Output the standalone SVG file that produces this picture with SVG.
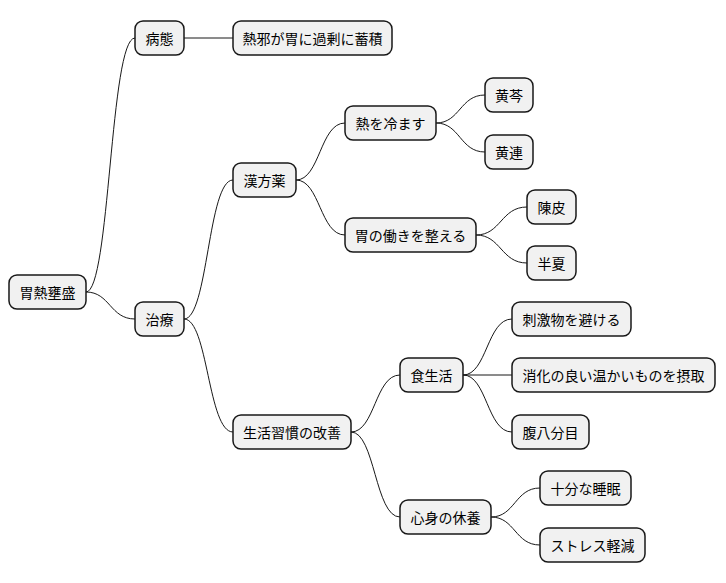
<svg xmlns="http://www.w3.org/2000/svg" width="726" height="583" viewBox="0 0 726 583">
<style>
.n rect{fill:#f1f1f1;stroke:#181818;stroke-width:1.5}
.n text{font-family:"Noto Sans CJK JP","Noto Sans",sans-serif;font-size:14px;fill:#000;text-anchor:middle;dominant-baseline:central}
#c path{fill:none;stroke:#181818;stroke-width:1}
</style>
<rect width="726" height="583" fill="#fff"/>
<g id="c">
<path d="M86,292 C110,292 110,38 135,38"/>
<path d="M86,292 C110,292 110,319 135,319"/>
<path d="M184,38 L233,38"/>
<path d="M184,319 C208,319 208,180 233,180"/>
<path d="M184,319 C208,319 208,432 233,432"/>
<path d="M296,180 C320,180 320,123 345,123"/>
<path d="M296,180 C320,180 320,235 345,235"/>
<path d="M436,123 C460,123 460,95 485,95"/>
<path d="M436,123 C460,123 460,152 485,152"/>
<path d="M476,235 C501,235 501,207 527,207"/>
<path d="M476,235 C501,235 501,263 527,263"/>
<path d="M351,432 C375,432 375,375 400,375"/>
<path d="M351,432 C375,432 375,517 400,517"/>
<path d="M463,375 C487,375 487,319 512,319"/>
<path d="M463,375 L512,375"/>
<path d="M463,375 C487,375 487,432 512,432"/>
<path d="M491,517 C515,517 515,488 540,488"/>
<path d="M491,517 C515,517 515,545 540,545"/>
</g>
<g id="n0" class="n"><rect x="9" y="275" width="77" height="34" rx="8"/><text x="47.5" y="292">胃熱壅盛</text></g>
<g id="n1" class="n"><rect x="135" y="21" width="49" height="34" rx="8"/><text x="159.5" y="38">病態</text></g>
<g id="n2" class="n"><rect x="233" y="21" width="159" height="34" rx="8"/><text x="312.5" y="38">熱邪が胃に過剰に蓄積</text></g>
<g id="n3" class="n"><rect x="135" y="302" width="49" height="34" rx="8"/><text x="159.5" y="319">治療</text></g>
<g id="n4" class="n"><rect x="233" y="163" width="63" height="34" rx="8"/><text x="264.5" y="180">漢方薬</text></g>
<g id="n5" class="n"><rect x="345" y="106" width="91" height="34" rx="8"/><text x="390.5" y="123">熱を冷ます</text></g>
<g id="n6" class="n"><rect x="485" y="78" width="48" height="34" rx="8"/><text x="509" y="95">黄芩</text></g>
<g id="n7" class="n"><rect x="485" y="135" width="48" height="34" rx="8"/><text x="509" y="152">黄連</text></g>
<g id="n8" class="n"><rect x="345" y="218" width="131" height="34" rx="8"/><text x="410.5" y="235">胃の働きを整える</text></g>
<g id="n9" class="n"><rect x="527" y="190" width="49" height="34" rx="8"/><text x="551.5" y="207">陳皮</text></g>
<g id="n10" class="n"><rect x="527" y="246" width="49" height="34" rx="8"/><text x="551.5" y="263">半夏</text></g>
<g id="n11" class="n"><rect x="233" y="415" width="118" height="34" rx="8"/><text x="292" y="432">生活習慣の改善</text></g>
<g id="n12" class="n"><rect x="400" y="358" width="63" height="34" rx="8"/><text x="431.5" y="375">食生活</text></g>
<g id="n13" class="n"><rect x="512" y="302" width="119" height="34" rx="8"/><text x="571.5" y="319">刺激物を避ける</text></g>
<g id="n14" class="n"><rect x="512" y="358" width="203" height="34" rx="8"/><text x="613.5" y="375">消化の良い温かいものを摂取</text></g>
<g id="n15" class="n"><rect x="512" y="415" width="77" height="34" rx="8"/><text x="550.5" y="432">腹八分目</text></g>
<g id="n16" class="n"><rect x="400" y="500" width="91" height="34" rx="8"/><text x="445.5" y="517">心身の休養</text></g>
<g id="n17" class="n"><rect x="540" y="471" width="91" height="34" rx="8"/><text x="585.5" y="488">十分な睡眠</text></g>
<g id="n18" class="n"><rect x="540" y="528" width="105" height="34" rx="8"/><text x="592.5" y="545">ストレス軽減</text></g>
</svg>
